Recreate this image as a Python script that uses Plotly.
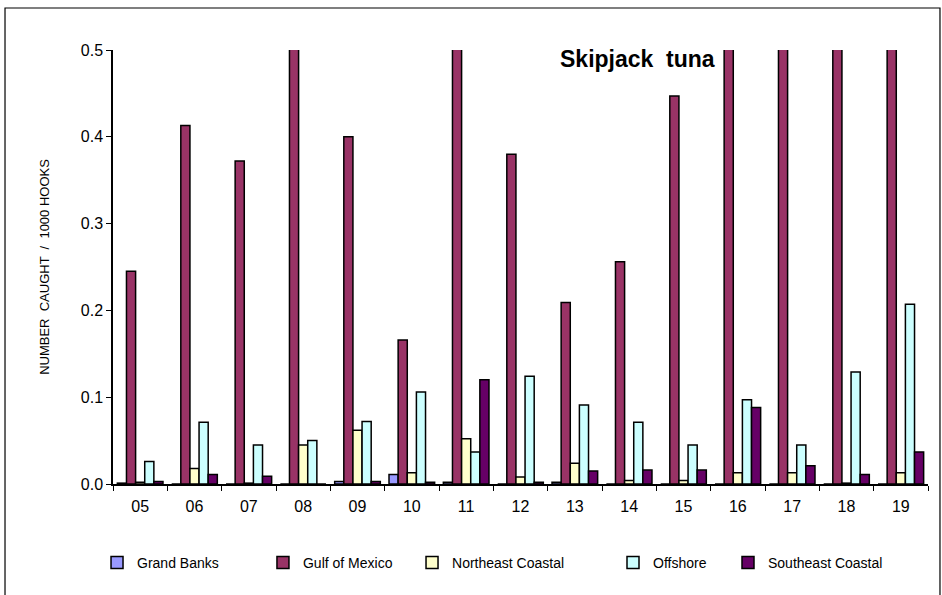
import plotly.graph_objects as go

years = ["05", "06", "07", "08", "09", "10", "11", "12", "13", "14", "15", "16", "17", "18", "19"]

grand_banks = [0.001, 0, 0, 0, 0.003, 0.011, 0.002, 0, 0.002, 0, 0, 0, 0, 0, 0]
gulf_of_mexico = [0.245, 0.413, 0.372, 0.60, 0.400, 0.166, 0.60, 0.380, 0.209, 0.256, 0.447, 0.60, 0.60, 0.60, 0.60]
northeast_coastal = [0.002, 0.018, 0.001, 0.045, 0.062, 0.013, 0.052, 0.008, 0.024, 0.004, 0.004, 0.013, 0.013, 0.001, 0.013]
offshore = [0.026, 0.071, 0.045, 0.050, 0.072, 0.106, 0.037, 0.124, 0.091, 0.071, 0.045, 0.097, 0.045, 0.129, 0.207]
southeast_coastal = [0.003, 0.011, 0.009, 0, 0.003, 0.002, 0.120, 0.002, 0.015, 0.016, 0.016, 0.088, 0.021, 0.011, 0.037]

series = [
    ("Grand Banks", grand_banks, "#9999FF"),
    ("Gulf of Mexico", gulf_of_mexico, "#993366"),
    ("Northeast Coastal", northeast_coastal, "#FFFFCC"),
    ("Offshore", offshore, "#CCFFFF"),
    ("Southeast Coastal", southeast_coastal, "#660066"),
]

FONT = "Liberation Sans Narrow, Liberation Sans, Arial, sans-serif"

# each series gets its own legend box so the entries sit where the original has them
legend_x = [-0.0196, 0.184, 0.3669, 0.6135, 0.7546]
legend_ids = ["legend", "legend2", "legend3", "legend4", "legend5"]

fig = go.Figure()
for (name, vals, col), lid in zip(series, legend_ids):
    fig.add_trace(go.Bar(x=years, y=vals, name=name, legend=lid,
                         marker=dict(color=col, line=dict(color="black", width=1.5))))

fig.update_layout(
    width=942, height=595,
    margin=dict(l=113, r=14, t=50, b=111),
    plot_bgcolor="white", paper_bgcolor="white",
    barmode="group", bargap=0.16, bargroupgap=0,
    font=dict(family=FONT, color="black", size=14),
    showlegend=True,
)
for lid, lx in zip(legend_ids, legend_x):
    fig.update_layout({lid: dict(orientation="h", x=lx, xanchor="left", y=-0.182, yanchor="middle",
                                 font=dict(size=14, family=FONT), itemwidth=30,
                                 bgcolor="rgba(0,0,0,0)")})

fig.update_xaxes(showline=True, linecolor="black", linewidth=1.5,
                 ticks="outside", tickson="boundaries", ticklen=5, tickcolor="black",
                 tickfont=dict(size=16), ticklabelstandoff=7, showgrid=False)
fig.update_yaxes(range=[0, 0.5], dtick=0.1, tickformat=".1f",
                 showline=True, linecolor="black", linewidth=1.5,
                 ticks="outside", ticklen=5, tickcolor="black", showgrid=False,
                 tickfont=dict(size=16), zeroline=False,
                 title=dict(text="NUMBER  CAUGHT  /  1000 HOOKS", font=dict(size=13), standoff=28))

# chart title inside the plot area
fig.add_annotation(text="<b>Skipjack  tuna</b>", xref="paper", yref="paper",
                   x=0.643, y=0.98, xanchor="center", yanchor="middle",
                   showarrow=False, font=dict(size=23, family="Liberation Sans, Arial"))

# outer frame
fig.add_shape(type="rect", xref="paper", yref="paper",
              x0=-0.1325, x1=1.0147, y0=-0.3, y1=1.0968,
              line=dict(color="black", width=1.2), fillcolor="rgba(0,0,0,0)")

fig.write_html("out.html", config={"displayModeBar": False},
               post_script="document.body.style.margin='0';")
